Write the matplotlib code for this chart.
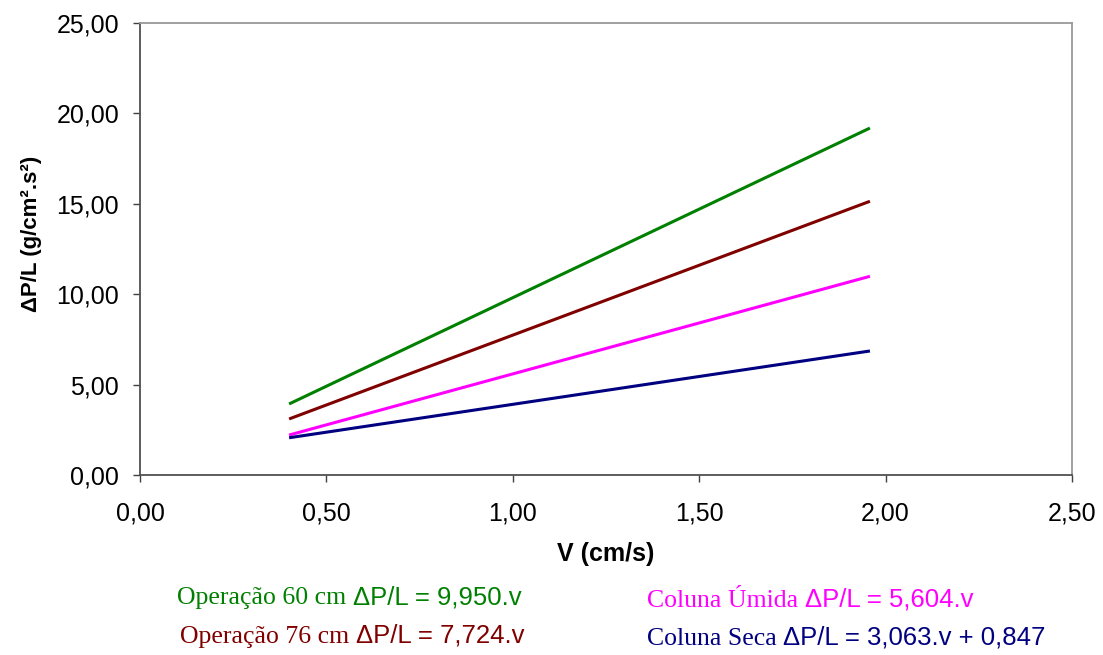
import matplotlib
matplotlib.use("Agg")
import matplotlib.pyplot as plt

# velocity range covered by each fitted line (cm/s)
v_ends = [0.40, 1.958]

# dP/L at the ends of each line (g/cm2.s2)
op60 = [3.93, 19.19]
op76 = [3.10, 15.14]
umida = [2.21, 10.99]
seca = [2.06, 6.86]

series = [
    (op60, "#008000"),
    (op76, "#800000"),
    (umida, "#FF00FF"),
    (seca, "#000080"),
]

x_ticks = [0.0, 0.5, 1.0, 1.5, 2.0, 2.5]
y_ticks = [0, 5, 10, 15, 20, 25]

# equation labels: (serif part, sans part, colour, x px, baseline px)
eq_labels = [
    ("Operação 60 cm ", "ΔP/L = 9,950.v", "#008000", 177, 604),
    ("Operação 76 cm ", "ΔP/L = 7,724.v", "#800000", 180, 643),
    ("Coluna Úmida ", "ΔP/L = 5,604.v", "#FF00FF", 647, 607),
    ("Coluna Seca ", "ΔP/L = 3,063.v + 0,847", "#000080", 647, 645),
]

W, H = 1103, 655
fig = plt.figure(figsize=(W / 100, H / 100), dpi=100)
ax = fig.add_axes([140 / W, 1 - 475 / H, (1072 - 140) / W, (475 - 23) / H])

for ys, c in series:
    ax.plot(v_ends, ys, color=c, lw=2.2, solid_capstyle="butt")

ax.set_xlim(0, 2.5)
ax.set_ylim(0, 25)
ax.set_xticks(x_ticks)
ax.set_yticks(y_ticks)
ax.set_xticklabels([f"{t:.2f}".replace(".", ",") for t in x_ticks],
                   family="Liberation Sans", fontsize=18)
ax.set_yticklabels([f"{t:.2f}".replace(".", ",") for t in y_ticks],
                   family="Liberation Sans", fontsize=18)
ax.tick_params(axis="both", length=5, width=1, color="#404040", direction="out")
ax.tick_params(axis="y", pad=10)
ax.tick_params(axis="x", pad=14)

for s in ("left", "bottom"):
    ax.spines[s].set_color("#505050")
    ax.spines[s].set_linewidth(1.3)
for s in ("top", "right"):
    ax.spines[s].set_color("#999999")
    ax.spines[s].set_linewidth(1.3)

fig.text(606 / W, 1 - 554 / H, "V (cm/s)", ha="center", va="center",
         family="Liberation Sans", fontweight="bold", fontsize=18)
fig.text(32 / W, 1 - 234 / H, "ΔP/L (g/cm².s²)", ha="center", va="center",
         rotation=90, family="Liberation Sans", fontweight="bold", fontsize=16)

renderer = fig.canvas.get_renderer()
for serif_part, sans_part, c, px, py in eq_labels:
    t = fig.text(px / W, 1 - py / H, serif_part, ha="left", va="baseline",
                 family="Liberation Serif", fontsize=18.5, color=c)
    bb = t.get_window_extent(renderer)
    fig.text(bb.x1 / W, 1 - py / H, sans_part, ha="left", va="baseline",
             family="Liberation Sans", fontsize=18.5, color=c)

fig.savefig("out.png", dpi=100)
